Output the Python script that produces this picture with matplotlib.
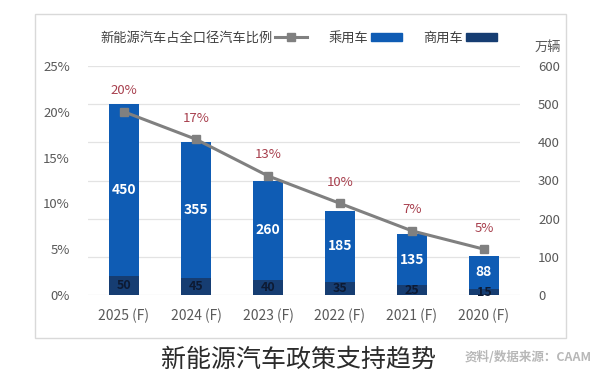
import matplotlib
matplotlib.use('Agg')
import matplotlib.pyplot as plt
from matplotlib.patches import Rectangle
from matplotlib.lines import Line2D
import numpy as np

plt.rcParams['font.family'] = ['Noto Sans CJK SC', 'DejaVu Sans']

# data (order left to right as shown)
years = ['2025 (F)', '2024 (F)', '2023 (F)', '2022 (F)', '2021 (F)', '2020 (F)']
commercial = [50, 45, 40, 35, 25, 15]          # 商用车, 万辆
passenger = [450, 355, 260, 185, 135, 88]      # 乘用车, 万辆
share = [20, 17, 13, 10, 7, 5]                 # 新能源汽车占全口径汽车比例, %
pct_ticks = [0, 5, 10, 15, 20, 25]
unit_ticks = [0, 100, 200, 300, 400, 500, 600]

c_pass = '#0f5cb4'
c_comm = '#163d72'
c_line = '#808080'
c_pct = '#a8404e'
c_text = '#595959'

fig = plt.figure(figsize=(6, 3.8), dpi=100)

# outer frame
fig.patches.append(Rectangle((35 / 600, 1 - 338 / 380), 531 / 600, 324 / 380,
                             transform=fig.transFigure, fill=False,
                             edgecolor='#d9d9d9', linewidth=1))

ax = fig.add_axes([88 / 600, 1 - 295 / 380, 432 / 600, 229 / 380])
ax2 = ax.twinx()
x = np.arange(len(years))

# bars on the right (unit) axis
ax.bar(x, commercial, width=0.41, color=c_comm, zorder=3)
ax.bar(x, passenger, width=0.41, bottom=commercial, color=c_pass, zorder=3)
for xi, c, p in zip(x, commercial, passenger):
    ax.text(xi, c / 2, str(c), ha='center', va='center', fontsize=9,
            fontweight='bold', color='#0d1a33', zorder=4)
    ax.text(xi, c + p / 2, str(p), ha='center', va='center', fontsize=10,
            fontweight='bold', color='white', zorder=4)

ax.set_xlim(-0.5, len(years) - 0.5)
ax.set_ylim(0, 600)
ax.set_yticks(unit_ticks)
ax.set_xticks(x)
ax.set_xticklabels(years)
ax.tick_params(axis='x', length=0, pad=10, labelsize=10, labelcolor=c_text)
ax.grid(axis='y', color='#e3e3e3', linewidth=0.9, zorder=0)
for s in ax.spines.values():
    s.set_visible(False)
ax.set_axisbelow(True)

# share line on the left (percent) axis
ax2.plot(x, share, color=c_line, linewidth=2.2, marker='s', markersize=6, zorder=5)
for xi, v in zip(x, share):
    ax2.text(xi, v + 1.6, f'{v}%', ha='center', va='bottom', fontsize=9.5,
             color=c_pct)
ax2.set_ylim(0, 25)
ax2.set_yticks(pct_ticks)
ax2.set_yticklabels([f'{t}%' for t in pct_ticks])
for s in ax2.spines.values():
    s.set_visible(False)

# units on the right, percent on the left
ax.yaxis.tick_right()
ax2.yaxis.tick_left()
ax.tick_params(axis='y', which='both', left=False, labelleft=False, right=False,
               labelright=True, length=0, pad=13, labelsize=9.5, labelcolor=c_text)
ax2.tick_params(axis='y', which='both', right=False, labelright=False, left=False,
                labelleft=True, length=0, pad=13, labelsize=9.5, labelcolor=c_text)

fig.text(548 / 600, 1 - 47 / 380, '万辆', ha='center', va='center',
         fontsize=9.5, color=c_text)

# legend (marker after the text, as in the picture)
handles = [Line2D([0], [0], color=c_line, linewidth=2.2, marker='s', markersize=6),
           Rectangle((0, 0), 1, 1, color=c_pass),
           Rectangle((0, 0), 1, 1, color=c_comm)]
labels = ['新能源汽车占全口径汽车比例', '乘用车', '商用车']
fig.legend(handles, labels, loc='center', bbox_to_anchor=(299 / 600, 1 - 38 / 380),
           ncol=3, frameon=False, markerfirst=False, fontsize=9.5,
           handlelength=2.4, handleheight=0.5, columnspacing=1.6,
           handletextpad=0.2, labelcolor='#404040')

# source note and caption
fig.text(592 / 600, 1 - 357 / 380, '资料/数据来源：CAAM', ha='right', va='center',
         fontsize=9, fontweight='bold', color='#b8b8b8', zorder=1)
fig.text(298 / 600, 1 - 360 / 380, '新能源汽车政策支持趋势', ha='center', va='center',
         fontsize=18, color='#2b2b2b', zorder=5)

fig.savefig('out.png', dpi=100)
